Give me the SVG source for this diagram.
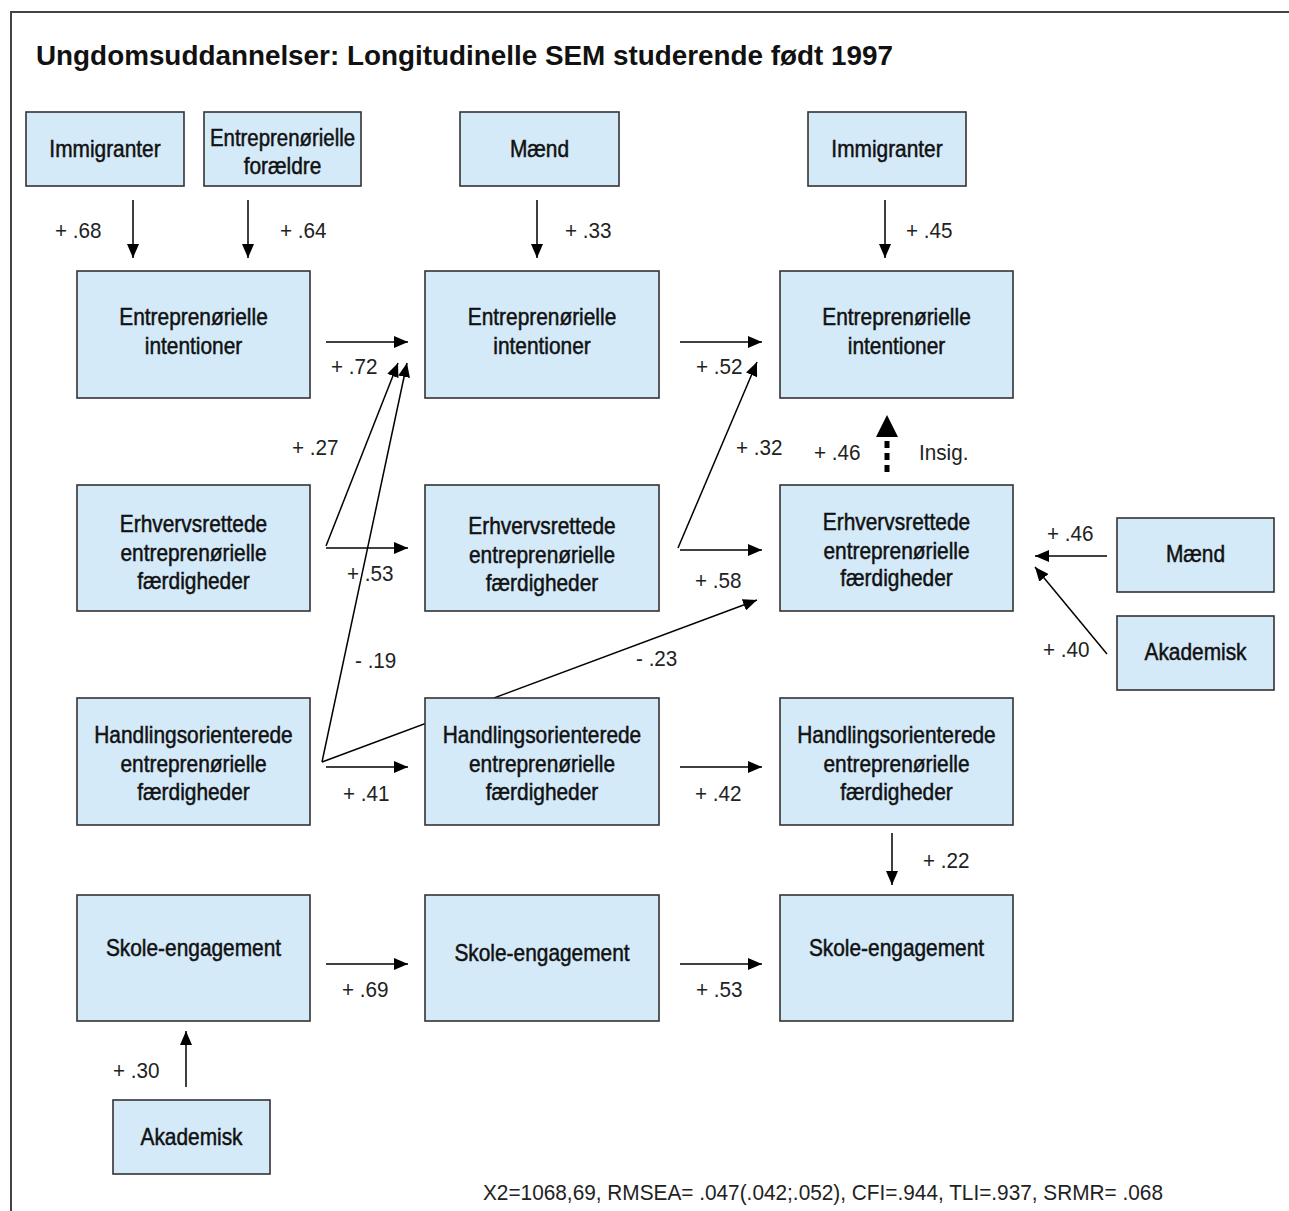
<svg xmlns="http://www.w3.org/2000/svg" width="1289" height="1211" viewBox="0 0 1289 1211">
  <style>
    .box { fill: #d4eaf9; stroke: #333; stroke-width: 1.6; }
    .lbl { font-family: "Liberation Sans", Arial, sans-serif; font-size: 24px; fill: #111; text-anchor: middle; stroke: #111; stroke-width: 0.5; }
    .coef { font-family: "Liberation Sans", Arial, sans-serif; font-size: 22px; fill: #222; }
    .edge { stroke: #000; stroke-width: 1.5; fill: none; marker-end: url(#ah); }
  </style>
  <defs>
    <marker id="ah" viewBox="0 0 14 12" refX="14" refY="6" markerWidth="14" markerHeight="12" markerUnits="userSpaceOnUse" orient="auto">
      <path d="M0,0 L14,6 L0,12 z" fill="#000"/>
    </marker>
  </defs>

  <rect x="0" y="0" width="1289" height="1211" fill="#fff"/>
  <!-- frame -->
  <path d="M11,1211 V12 H1289" fill="none" stroke="#444" stroke-width="2"/>

  <text x="36" y="65" font-family="'Liberation Sans', Arial, sans-serif" font-weight="bold" font-size="27" fill="#111" textLength="857" lengthAdjust="spacingAndGlyphs">Ungdomsuddannelser: Longitudinelle SEM studerende født 1997</text>

  <!-- connectors (drawn beneath the boxes) -->
  <g id="connectors">
    <line class="edge" x1="133" y1="200" x2="133" y2="258"/>
    <line class="edge" x1="248" y1="200" x2="248" y2="258"/>
    <line class="edge" x1="537" y1="200" x2="537" y2="258"/>
    <line class="edge" x1="885" y1="200" x2="885" y2="258"/>

    <line class="edge" x1="326" y1="342" x2="408" y2="342"/>
    <line class="edge" x1="680" y1="342" x2="762" y2="342"/>
    <line class="edge" x1="326" y1="546" x2="398" y2="363"/>
    <line class="edge" x1="322" y1="762" x2="407" y2="363"/>
    <line class="edge" x1="326" y1="548" x2="408" y2="548"/>
    <line class="edge" x1="326" y1="767" x2="408" y2="767"/>
    <line class="edge" x1="322" y1="762" x2="757" y2="600"/>

    <line class="edge" x1="678" y1="548" x2="757" y2="362"/>
    <line class="edge" x1="680" y1="550" x2="762" y2="550"/>
    <line class="edge" x1="680" y1="767" x2="762" y2="767"/>
    <line x1="887" y1="472" x2="887" y2="436" stroke="#000" stroke-width="5" stroke-dasharray="7 5"/>
    <path d="M876,437 L887,415 L898,437 z" fill="#000"/>

    <line class="edge" x1="1107" y1="556" x2="1035" y2="556"/>
    <line class="edge" x1="1107" y1="654" x2="1035" y2="567"/>

    <line class="edge" x1="892" y1="833" x2="892" y2="885"/>
    <line class="edge" x1="326" y1="964" x2="408" y2="964"/>
    <line class="edge" x1="680" y1="964" x2="762" y2="964"/>
    <line class="edge" x1="186" y1="1087" x2="186" y2="1031"/>
  </g>

  <!-- path coefficients (slightly condensed) -->
  <g id="coefficients" class="coef">
    <text transform="translate(55,238) scale(0.94,1)">+ .68</text>
    <text transform="translate(280,238) scale(0.94,1)">+ .64</text>
    <text transform="translate(565,238) scale(0.94,1)">+ .33</text>
    <text transform="translate(906,238) scale(0.94,1)">+ .45</text>
    <text transform="translate(331,374) scale(0.94,1)">+ .72</text>
    <text transform="translate(696,374) scale(0.94,1)">+ .52</text>
    <text transform="translate(292,455) scale(0.94,1)">+ .27</text>
    <text transform="translate(347,581) scale(0.94,1)">+ .53</text>
    <text transform="translate(355,668) scale(0.94,1)">- .19</text>
    <text transform="translate(343,801) scale(0.94,1)">+ .41</text>
    <text transform="translate(636,666) scale(0.94,1)">- .23</text>
    <text transform="translate(736,455) scale(0.94,1)">+ .32</text>
    <text transform="translate(695,588) scale(0.94,1)">+ .58</text>
    <text transform="translate(814,460) scale(0.94,1)">+ .46</text>
    <text transform="translate(919,460) scale(0.94,1)">Insig.</text>
    <text transform="translate(1047,541) scale(0.94,1)">+ .46</text>
    <text transform="translate(1043,657) scale(0.94,1)">+ .40</text>
    <text transform="translate(695,801) scale(0.94,1)">+ .42</text>
    <text transform="translate(923,868) scale(0.94,1)">+ .22</text>
    <text transform="translate(342,997) scale(0.94,1)">+ .69</text>
    <text transform="translate(696,997) scale(0.94,1)">+ .53</text>
    <text transform="translate(113,1078) scale(0.94,1)">+ .30</text>
  </g>

  <!-- exogenous predictors -->
  <g id="immigranter-1">
    <rect class="box" x="26" y="112" width="158" height="74"/>
    <text class="lbl" transform="translate(105,157) scale(0.87,1)">Immigranter</text>
  </g>
  <g id="foraeldre">
    <rect class="box" x="204" y="112" width="157" height="74"/>
    <text class="lbl" transform="translate(282.5,146) scale(0.85,1)">Entreprenørielle</text>
    <text class="lbl" transform="translate(282.5,174) scale(0.87,1)">forældre</text>
  </g>
  <g id="maend-1">
    <rect class="box" x="460" y="112" width="159" height="74"/>
    <text class="lbl" transform="translate(539.5,157) scale(0.87,1)">Mænd</text>
  </g>
  <g id="immigranter-2">
    <rect class="box" x="808" y="112" width="158" height="74"/>
    <text class="lbl" transform="translate(887,157) scale(0.87,1)">Immigranter</text>
  </g>

  <!-- intentions -->
  <g id="int-1">
    <rect class="box" x="77" y="271" width="233" height="127"/>
    <text class="lbl" transform="translate(193.5,325) scale(0.87,1)">Entreprenørielle</text>
    <text class="lbl" transform="translate(193.5,354) scale(0.87,1)">intentioner</text>
  </g>
  <g id="int-2">
    <rect class="box" x="425" y="271" width="234" height="127"/>
    <text class="lbl" transform="translate(542,325) scale(0.87,1)">Entreprenørielle</text>
    <text class="lbl" transform="translate(542,354) scale(0.87,1)">intentioner</text>
  </g>
  <g id="int-3">
    <rect class="box" x="780" y="271" width="233" height="127"/>
    <text class="lbl" transform="translate(896.5,325) scale(0.87,1)">Entreprenørielle</text>
    <text class="lbl" transform="translate(896.5,354) scale(0.87,1)">intentioner</text>
  </g>

  <!-- vocational skills -->
  <g id="erh-1">
    <rect class="box" x="77" y="485" width="233" height="126"/>
    <text class="lbl" transform="translate(193.5,532) scale(0.87,1)">Erhvervsrettede</text>
    <text class="lbl" transform="translate(193.5,561) scale(0.87,1)">entreprenørielle</text>
    <text class="lbl" transform="translate(193.5,589) scale(0.87,1)">færdigheder</text>
  </g>
  <g id="erh-2">
    <rect class="box" x="425" y="485" width="234" height="126"/>
    <text class="lbl" transform="translate(542,534) scale(0.87,1)">Erhvervsrettede</text>
    <text class="lbl" transform="translate(542,563) scale(0.87,1)">entreprenørielle</text>
    <text class="lbl" transform="translate(542,591) scale(0.87,1)">færdigheder</text>
  </g>
  <g id="erh-3">
    <rect class="box" x="780" y="485" width="233" height="126"/>
    <text class="lbl" transform="translate(896.5,530) scale(0.87,1)">Erhvervsrettede</text>
    <text class="lbl" transform="translate(896.5,559) scale(0.87,1)">entreprenørielle</text>
    <text class="lbl" transform="translate(896.5,586) scale(0.87,1)">færdigheder</text>
  </g>
  <g id="maend-2">
    <rect class="box" x="1117" y="518" width="157" height="74"/>
    <text class="lbl" transform="translate(1195.5,562) scale(0.87,1)">Mænd</text>
  </g>
  <g id="akademisk-1">
    <rect class="box" x="1117" y="616" width="157" height="74"/>
    <text class="lbl" transform="translate(1195.5,660) scale(0.87,1)">Akademisk</text>
  </g>

  <!-- action-oriented skills -->
  <g id="hand-1">
    <rect class="box" x="77" y="698" width="233" height="127"/>
    <text class="lbl" transform="translate(193.5,743) scale(0.87,1)">Handlingsorienterede</text>
    <text class="lbl" transform="translate(193.5,772) scale(0.87,1)">entreprenørielle</text>
    <text class="lbl" transform="translate(193.5,800) scale(0.87,1)">færdigheder</text>
  </g>
  <g id="hand-2">
    <rect class="box" x="425" y="698" width="234" height="127"/>
    <text class="lbl" transform="translate(542,743) scale(0.87,1)">Handlingsorienterede</text>
    <text class="lbl" transform="translate(542,772) scale(0.87,1)">entreprenørielle</text>
    <text class="lbl" transform="translate(542,800) scale(0.87,1)">færdigheder</text>
  </g>
  <g id="hand-3">
    <rect class="box" x="780" y="698" width="233" height="127"/>
    <text class="lbl" transform="translate(896.5,743) scale(0.87,1)">Handlingsorienterede</text>
    <text class="lbl" transform="translate(896.5,772) scale(0.87,1)">entreprenørielle</text>
    <text class="lbl" transform="translate(896.5,800) scale(0.87,1)">færdigheder</text>
  </g>

  <!-- school engagement -->
  <g id="skole-1">
    <rect class="box" x="77" y="895" width="233" height="126"/>
    <text class="lbl" transform="translate(193.5,956) scale(0.87,1)">Skole-engagement</text>
  </g>
  <g id="skole-2">
    <rect class="box" x="425" y="895" width="234" height="126"/>
    <text class="lbl" transform="translate(542,961) scale(0.87,1)">Skole-engagement</text>
  </g>
  <g id="skole-3">
    <rect class="box" x="780" y="895" width="233" height="126"/>
    <text class="lbl" transform="translate(896.5,956) scale(0.87,1)">Skole-engagement</text>
  </g>
  <g id="akademisk-2">
    <rect class="box" x="113" y="1100" width="157" height="74"/>
    <text class="lbl" transform="translate(191.5,1145) scale(0.87,1)">Akademisk</text>
  </g>

  <text x="483" y="1200" font-family="'Liberation Sans', Arial, sans-serif" font-size="22" fill="#222" textLength="680" lengthAdjust="spacingAndGlyphs">X2=1068,69, RMSEA= .047(.042;.052), CFI=.944, TLI=.937, SRMR= .068</text>
</svg>
